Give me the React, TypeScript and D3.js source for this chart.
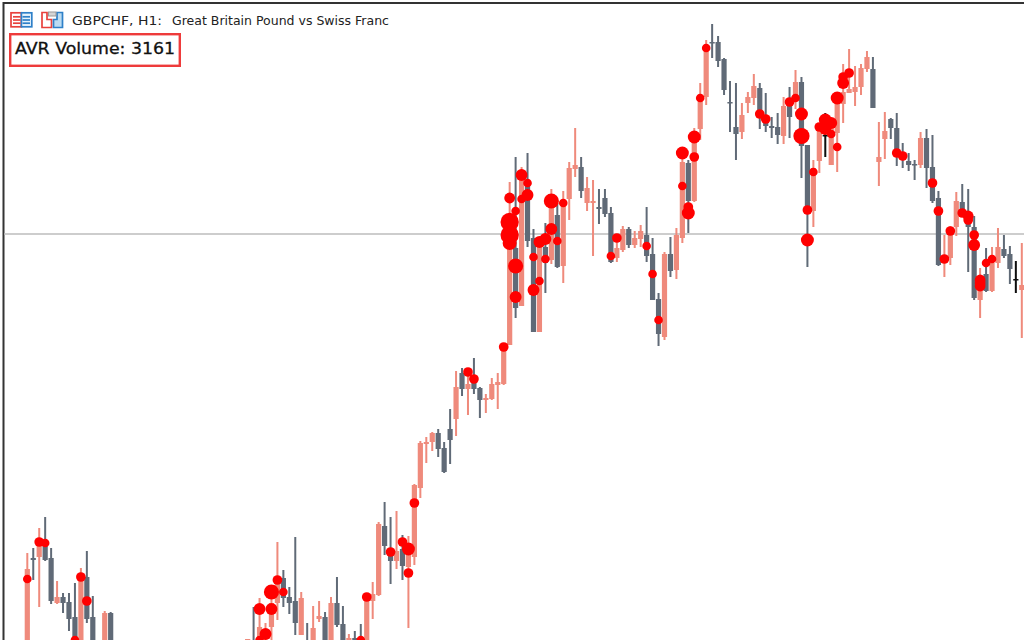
import React from "react";
import * as d3 from "d3";

const titleHead = "GBPCHF, H1:";
const titleTail = "Great Britain Pound vs Swiss Franc";
const avgText = "AVR Volume: 3161";
const referenceLevel = 234;

const barSlots = [...d3.range(0, 15), ...d3.range(37, 168)];
const barKinds = [
  "u","d","u","d","d","u","d","d","d","u",
  "d","d","u","u","d",
  "u","d","u",
  "u","u","u","d","d","d","u","d","u","u",
  "d","u","d","d","u","d","d","u","u","u",
  "d","d","u","d","u","u","u","u","u","d",
  "d","d","u","d","u","d","d","u","u","u",
  "u","u","d","u","d","d","u","d","u","d",
  "u","u","u","d","u","u","d","d","d","u",
  "u","d","u","u","d","d","d","u","d","u",
  "u","d","u","u","u","d","d","d","d","d",
  "u","u","u","d","d","d","d","u","d","u",
  "d","d","u","u","k","u","u","u","u","u",
  "u","u","d","u","u","d","d","d","d","d",
  "u","d","d","d","u","u","u","d","d","d",
  "u","d","u","u","d","d","k","u",
];
const barHighs = [
  553,548,528,517,548,581,593,593,583,568,
  551,596,660,611,612,
  639,607,598,
  623,585,542,570,587,537,592,623,606,601,
  612,597,577,606,634,631,624,593,582,522,
  502,517,511,535,536,484,441,437,432,429,
  442,409,371,368,372,358,387,394,378,373,
  343,182,157,167,153,229,240,223,189,203,
  191,162,128,157,177,180,189,189,207,235,
  226,227,231,225,207,238,293,252,237,228,
  150,160,128,83,40,24,36,58,81,83,
  103,92,74,83,93,117,113,97,87,70,
  77,145,160,125,113,118,98,64,49,66,
  64,51,57,122,112,118,113,143,153,160,
  132,129,135,191,235,226,192,184,189,216,
  268,248,247,228,235,246,261,243,
];
const barLows = [
  660,580,607,561,604,604,613,631,660,660,
  623,660,660,660,660,
  660,660,660,
  660,660,620,607,614,635,635,660,660,622,
  660,660,627,660,660,660,660,660,619,596,
  555,584,569,580,628,565,498,463,451,457,
  473,464,436,396,415,394,418,413,400,409,
  385,345,318,306,247,332,332,293,264,268,
  283,220,177,198,211,256,224,217,263,262,
  252,248,248,247,262,300,346,340,277,279,
  243,233,202,140,105,58,67,95,132,160,
  139,113,105,129,132,138,144,144,138,109,
  178,267,227,173,157,160,172,123,93,106,
  95,72,108,186,159,139,166,168,171,180,
  168,188,203,266,277,265,236,217,272,300,
  318,292,292,268,258,284,293,338,
];
const barTops = [
  569,558,540,543,558,597,597,602,617,578,
  577,617,660,613,613,
  639,650,627,
  640,603,580,578,597,601,598,650,628,616,
  617,603,603,624,638,638,645,597,594,524,
  526,548,551,549,553,485,443,442,433,433,
  448,429,387,373,384,380,388,398,384,382,
  345,225,248,180,185,238,245,247,200,215,
  200,168,165,167,188,201,207,198,213,248,
  229,229,238,231,235,254,299,254,254,235,
  162,163,132,98,47,42,42,59,102,127,
  115,97,86,88,119,126,127,106,103,82,
  82,145,168,130,135,125,98,92,89,87,
  68,57,69,157,131,119,128,154,161,164,
  138,138,167,198,255,233,201,202,215,227,
  277,274,263,247,249,254,279,285,
];
const barBottoms = [
  660,560,557,560,601,603,603,619,660,660,
  619,660,660,660,660,
  660,660,660,
  660,627,603,598,603,623,635,660,660,619,
  660,660,625,660,660,660,660,660,601,595,
  546,561,561,566,567,557,488,444,442,449,
  472,440,419,389,389,389,400,400,399,385,
  384,345,308,306,241,332,332,263,260,267,
  266,199,169,191,203,203,209,214,262,258,
  250,245,245,239,256,300,334,337,271,270,
  238,201,201,129,97,43,61,90,103,134,
  132,103,98,114,126,128,135,136,117,98,
  146,207,211,161,136,165,133,104,93,92,
  87,69,108,162,139,128,153,158,165,165,
  165,168,201,265,263,258,227,217,227,298,
  300,291,291,263,256,269,280,290,
];

const markerSlots = [
  0,2,3,8,9,10,39,39,40,41,41,42,43,56,57,61,63,64,64,65,74,75,80,
  81,81,81,81,82,82,82,83,83,84,84,85,85,86,86,87,87,88,88,89,90,
  98,99,104,105,106,110,110,111,111,112,112,113,114,
  123,124,128,129,130,130,131,131,132,133,134,134,135,135,136,136,137,137,138,
  146,147,152,153,154,155,157,158,158,159,159,160,160,160,161,162,
];
const markerLevels = [
  579,542,543,640,577,601,609,640,634,592,609,580,592,640,597,552,542,549,573,503,372,379,347,
  198,222,235,243,211,266,297,175,199,183,195,257,290,242,281,259,239,201,229,241,203,
  256,238,246,274,320,153,186,207,213,137,157,98,48,
  114,119,102,98,114,136,210,240,172,127,120,129,123,134,98,147,77,83,73,
  153,156,183,211,259,231,213,216,220,235,245,280,283,286,263,259,
];
const markerVolumes = [
  4,4.5,4,4,4.5,4.5,5.5,4,5.5,7,5.5,4.5,4,4,4.5,4.5,4.5,6,4.5,4.5,4.5,4.5,4.5,
  5,8.5,8.5,6.5,4,7,5.5,5.5,4,4,5.5,4,5.5,5.5,4,4,5.5,7,5.5,4,4,
  4,4.5,4,4,4,6,4,4.5,6,6,4.5,4,4,
  4.5,4.5,4.5,4,6,7.5,4.5,6,4,4.5,6,5.5,5.5,4,6,4,4.5,5.5,4.5,
  4.5,4.5,4.5,4.5,4.5,4.5,4.5,5,4.5,4.5,5.5,5,5,5,4,4,
];

const colours: Record<string, string> = { u: "#ef8a7b", d: "#616b77", k: "#111111" };

const x = d3.scaleLinear().domain([0, 167]).range([27.3, 1021.8]);
const y = d3.scaleLinear().domain([0, 640]).range([0, 640]);
const r = d3.scaleLinear().domain([0, 10]).range([0, 10.8]);

const bars = barSlots.map((slot, i) => ({
  slot,
  kind: barKinds[i],
  high: barHighs[i],
  low: barLows[i],
  top: barTops[i],
  bottom: barBottoms[i],
}));

function Icons() {
  const red = "#e8413c";
  const blue = "#2f80c8";
  return (
    <g fill="none" strokeWidth={1.7}>
      <rect x={11} y={12.8} width={10.4} height={14} fill="#fff" stroke={red} />
      <rect x={21.4} y={12.8} width={10.4} height={14} fill="#e6f2fb" stroke={blue} />
      {[16.8, 20, 23.2].map((v) => (
        <g key={v}>
          <line x1={13} x2={20.5} y1={v} y2={v} stroke={red} />
          <line x1={22.5} x2={30} y1={v} y2={v} stroke={blue} />
        </g>
      ))}
      <path d="M42 12.5H47V19.5H51.5V27.5H42Z" fill="#fff" stroke={red} />
      <path d="M57 19.5V12.5H62.5V27.5H53.5V19.5Z" fill="#bcdcf2" stroke={blue} />
      <rect x={48.5} y={12} width={7.5} height={4} fill="#d4d4d4" stroke="#9a9a9a" strokeWidth={1} />
    </g>
  );
}

export default function App() {
  return (
    <svg
      width={1024}
      height={640}
      viewBox="0 0 1024 640"
      style={{ position: "absolute", left: 0, top: 0, background: "#fff", display: "block" }}
    >
      <defs>
        <filter id="soft" x="-2%" y="-2%" width="104%" height="104%">
          <feGaussianBlur stdDeviation={0.4} />
        </filter>
      </defs>
      <line x1={3} x2={1024} y1={3} y2={3} stroke="#333" strokeWidth={2} />
      <line x1={3.5} x2={3.5} y1={2} y2={640} stroke="#333" strokeWidth={2} />
      <line x1={4} x2={1024} y1={y(referenceLevel)} y2={y(referenceLevel)} stroke="#bdbdbd" strokeWidth={1.5} />
      <g filter="url(#soft)">
        {bars.map((b) => (
          <g key={b.slot} fill={colours[b.kind]} stroke="none">
            <rect x={x(b.slot) - 1} width={2} y={y(b.high)} height={y(b.low) - y(b.high)} />
            <rect
              x={x(b.slot) - 2.6}
              width={5.2}
              y={y(b.top)}
              height={Math.max(y(b.bottom) - y(b.top), 1.5)}
            />
          </g>
        ))}
        <g fill="#ff0000">
          {markerSlots.map((slot, i) => (
            <circle key={i} cx={x(slot)} cy={y(markerLevels[i])} r={r(markerVolumes[i])} />
          ))}
        </g>
      </g>
      <Icons />
      <g fontFamily="'DejaVu Sans', sans-serif" fill="#222">
        <text x={72} y={24.5} fontSize={11.5} textLength={90} lengthAdjust="spacingAndGlyphs">
          {titleHead}
        </text>
        <text x={172} y={24.5} fontSize={11.5} textLength={217} lengthAdjust="spacingAndGlyphs">
          {titleTail}
        </text>
      </g>
      <rect x={10.2} y={34.2} width={169.6} height={31.6} fill="none" stroke="#ee3b3b" strokeWidth={2.4} />
      <text
        x={15}
        y={54}
        fontFamily="'DejaVu Sans', sans-serif"
        fontSize={16}
        fill="#111"
        stroke="#111"
        strokeWidth={0.3}
        textLength={160}
        lengthAdjust="spacingAndGlyphs"
      >
        {avgText}
      </text>
    </svg>
  );
}
